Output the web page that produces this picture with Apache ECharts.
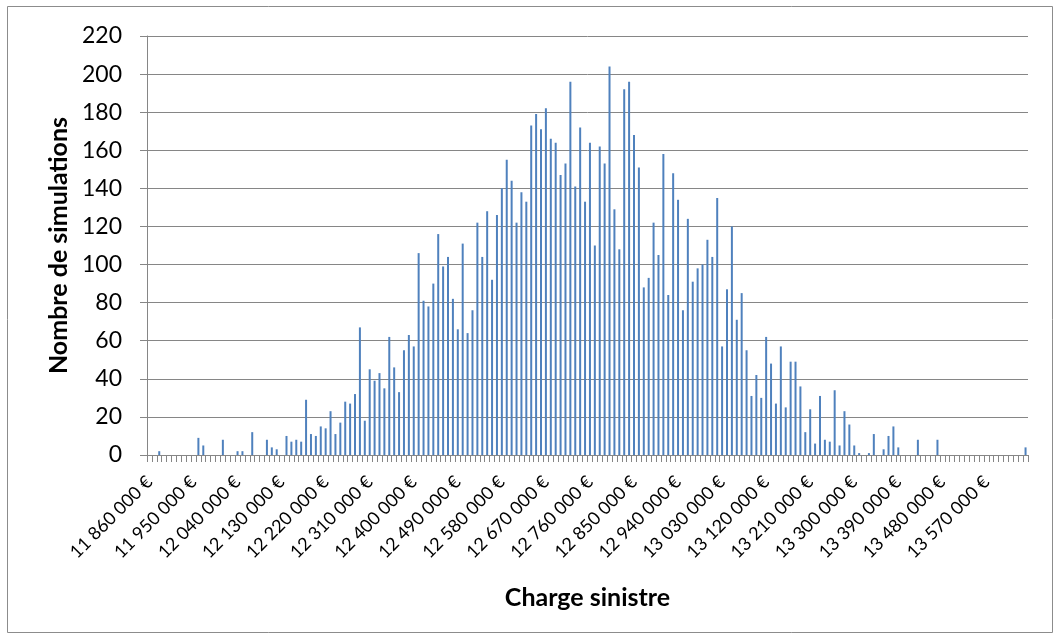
<!DOCTYPE html>
<html>
<head>
<meta charset="utf-8">
<script src="https://cdn.jsdelivr.net/npm/echarts@6/dist/echarts.min.js"></script>
<style>
html,body{margin:0;padding:0;background:#fff;}
#chart{width:1063px;height:635px;}
</style>
</head>
<body>
<div id="chart"></div>
<script>
// Histogram bins: 10 000 € wide, starting at 11 860 000 €
const binStart = 11860000;
const binStep = 10000;
const binCount = 180;

// Number of simulations per bin
const counts = [
  0, 0, 2, 0, 0, 0, 0, 0, 0, 0,
  9, 5, 0, 0, 0, 8, 0, 0, 2, 2,
  0, 12, 0, 0, 8, 4, 3, 0, 10, 7,
  8, 7, 29, 11, 10, 15, 14, 23, 11, 17,
  28, 27, 32, 67, 18, 45, 39, 43, 35, 62,
  46, 33, 55, 63, 57, 106, 81, 78, 90, 116,
  99, 104, 82, 66, 111, 64, 76, 122, 104, 128,
  92, 126, 140, 155, 144, 122, 138, 133, 173, 179,
  171, 182, 166, 164, 147, 153, 196, 141, 172, 133,
  164, 110, 162, 153, 204, 129, 108, 192, 196, 168,
  151, 88, 93, 122, 105, 158, 84, 148, 134, 76,
  124, 91, 98, 100, 113, 104, 135, 57, 87, 120,
  71, 85, 55, 31, 42, 30, 62, 48, 27, 57,
  25, 49, 49, 36, 12, 24, 6, 31, 8, 7,
  34, 5, 23, 16, 5, 1, 0, 1, 11, 0,
  3, 10, 15, 4, 0, 0, 0, 8, 0, 0,
  0, 8, 0, 0, 0, 0, 0, 0, 0, 0,
  0, 0, 0, 0, 0, 0, 0, 0, 0, 4
];

const yTicks = [0, 20, 40, 60, 80, 100, 120, 140, 160, 180, 200, 220];
const xTitle = 'Charge sinistre';
const yTitle = 'Nombre de simulations';

function fmtEuro(v) {
  return String(v).replace(/\B(?=(\d{3})+(?!\d))/g, ' ') + ' €';
}
const categories = [];
for (let i = 0; i < binCount; i++) categories.push(fmtEuro(binStart + i * binStep));

const FONT = 'Lato, "Open Sans", sans-serif';
const gray = '#868686';

const chart = echarts.init(document.getElementById('chart'), null, {renderer: 'canvas'});
chart.setOption({
  animation: false,
  backgroundColor: '#ffffff',
  graphic: [{
    type: 'rect',
    shape: {x: 7.5, y: 6.5, width: 1045, height: 626},
    style: {fill: 'none', stroke: '#8c8c8c', lineWidth: 1},
    silent: true
  }],
  grid: {left: 147, top: 36, width: 881, height: 419, containLabel: false},
  xAxis: {
    type: 'category',
    data: categories,
    boundaryGap: true,
    axisLine: {lineStyle: {color: gray, width: 1}},
    axisTick: {show: true, interval: 0, length: 7, lineStyle: {color: gray}},
    axisLabel: {
      interval: 8, rotate: 45, fontSize: 18, fontFamily: FONT, color: '#000', margin: 24
    },
    name: xTitle,
    nameLocation: 'middle',
    nameGap: 130,
    nameTextStyle: {fontSize: 25, fontWeight: 'bold', fontFamily: FONT, color: '#000'}
  },
  yAxis: {
    type: 'value',
    min: yTicks[0],
    max: yTicks[yTicks.length - 1],
    interval: 20,
    axisLine: {show: true, lineStyle: {color: gray, width: 1}},
    axisTick: {show: true, length: 7, lineStyle: {color: gray}},
    splitLine: {show: true, lineStyle: {color: gray, width: 1}},
    axisLabel: {fontSize: 23, fontFamily: FONT, color: '#000', margin: 25},
    name: yTitle,
    nameLocation: 'middle',
    nameRotate: 90,
    nameGap: 76,
    nameTextStyle: {fontSize: 25, fontWeight: 'bold', fontFamily: FONT, color: '#000'}
  },
  series: [{
    type: 'bar',
    data: counts,
    barWidth: 2,
    itemStyle: {color: '#4F81BD'}
  }]
});
</script>
</body>
</html>
